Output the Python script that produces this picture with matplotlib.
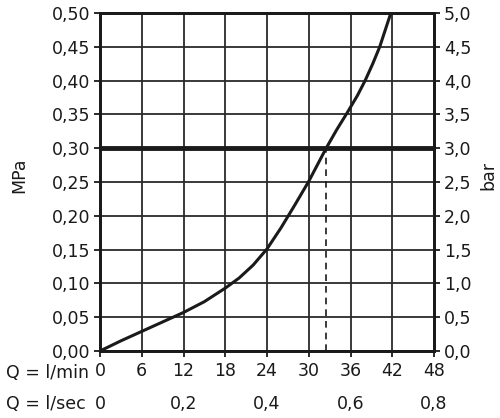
import matplotlib
matplotlib.use("Agg")
import matplotlib.pyplot as plt
from matplotlib.transforms import blended_transform_factory

# Data
q_lmin = [0, 3, 6, 9, 12, 15, 18, 20, 22, 24, 26, 28, 30, 32.5, 34, 35.5, 37, 38.1, 39.2, 40.2, 41.0, 41.8]
p_mpa = [0, 0.015, 0.029, 0.043, 0.057, 0.073, 0.093, 0.108, 0.127, 0.151, 0.182, 0.216, 0.251,
         0.30, 0.327, 0.352, 0.378, 0.40, 0.425, 0.45, 0.475, 0.50]
x_ticks = [0, 6, 12, 18, 24, 30, 36, 42, 48]
y_ticks = [0.0, 0.05, 0.10, 0.15, 0.20, 0.25, 0.30, 0.35, 0.40, 0.45, 0.50]
y_labels = ["0,00", "0,05", "0,10", "0,15", "0,20", "0,25", "0,30", "0,35", "0,40", "0,45", "0,50"]
bar_ticks = [0.0, 0.5, 1.0, 1.5, 2.0, 2.5, 3.0, 3.5, 4.0, 4.5, 5.0]
bar_labels = ["0,0", "0,5", "1,0", "1,5", "2,0", "2,5", "3,0", "3,5", "4,0", "4,5", "5,0"]
lsec_pos = [0, 12, 24, 36, 48]
lsec_labels = ["0", "0,2", "0,4", "0,6", "0,8"]
ref_pressure = 0.30
ref_flow = 32.5

plt.rcParams['font.family'] = ['DejaVu Sans']
fs = 12.5
dark = "#1a1a1a"

fig = plt.figure(figsize=(5, 4.18), dpi=100)
ax = fig.add_axes([0.2, 0.1603, 0.668, 0.8086])
ax.set_xlim(0, 48)
ax.set_ylim(0, 0.5)

ax.set_xticks(x_ticks)
ax.set_xticklabels([str(v) for v in x_ticks], fontsize=fs, color=dark)
ax.set_yticks(y_ticks)
ax.set_yticklabels(y_labels, fontsize=fs, color=dark)
ax.tick_params(axis='both', direction='out', length=4, width=1.3, colors=dark, pad=3)
ax.tick_params(axis='x', pad=4)
ax.grid(True, color="#2a2a2a", linewidth=1.3)
for s in ax.spines.values():
    s.set_linewidth(2)
    s.set_color(dark)

ax2 = ax.twinx()
ax2.set_ylim(0, 5)
ax2.set_yticks(bar_ticks)
ax2.set_yticklabels(bar_labels, fontsize=fs, color=dark)
ax2.tick_params(axis='y', direction='out', length=4, width=1.3, colors=dark, pad=3)
for s in ax2.spines.values():
    s.set_linewidth(2)
    s.set_color(dark)

ax.axhline(ref_pressure, color=dark, linewidth=3.5, zorder=4)
ax.plot([ref_flow, ref_flow], [0, ref_pressure], color=dark, linewidth=1.2,
        linestyle=(0, (4, 3)), zorder=3)
ax.plot(q_lmin, p_mpa, color=dark, linewidth=2.2, zorder=5, solid_joinstyle='round')

ax.set_ylabel("MPa", fontsize=fs, color=dark)
ax2.set_ylabel("bar", fontsize=fs, color=dark)
ax.yaxis.set_label_coords(-0.215, 0.52)
ax2.yaxis.set_label_coords(1.135, 0.52)

tr = blended_transform_factory(ax.transData, ax.transAxes)
fig.text(0.178, 1 - 373 / 418, "Q = l/min", fontsize=fs, color=dark, ha='right', va='center')
fig.text(0.172, 1 - 404 / 418, "Q = l/sec", fontsize=fs, color=dark, ha='right', va='center')
for pos, lab in zip(lsec_pos, lsec_labels):
    ax.text(pos, -0.156, lab, transform=tr, fontsize=fs, color=dark, ha='center', va='center')

fig.savefig("out.png", dpi=100)
